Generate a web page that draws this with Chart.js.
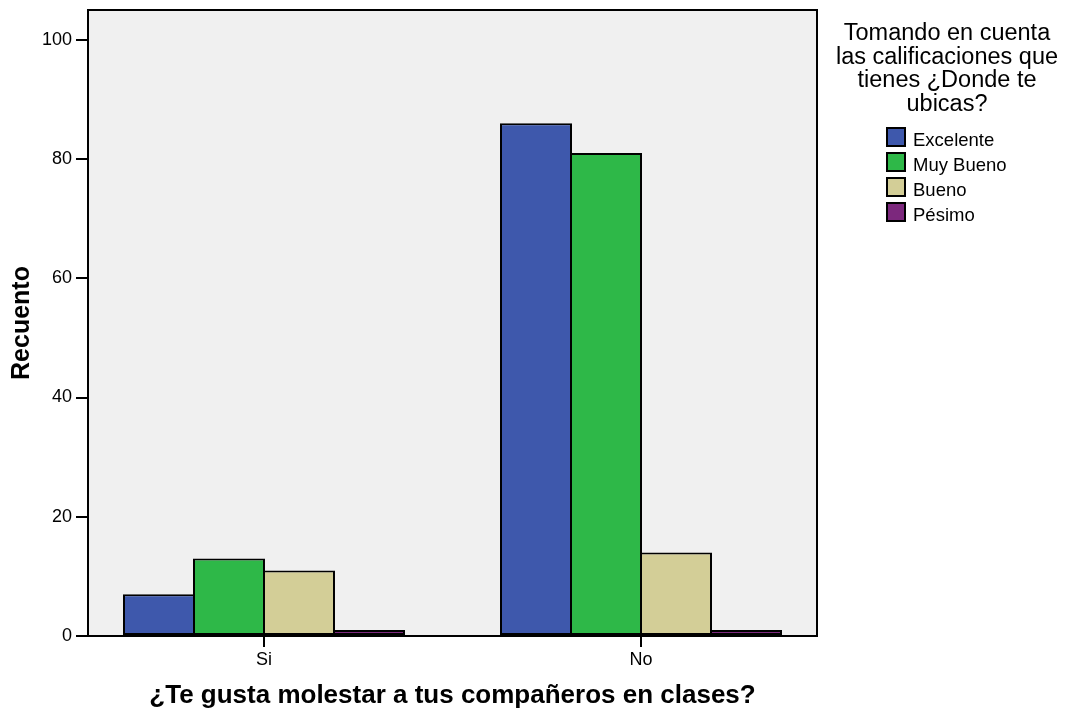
<!DOCTYPE html>
<html>
<head>
  <meta charset="UTF-8">
  <title>¿Te gusta molestar a tus compañeros en clases?</title>

  <script src="https://cdn.jsdelivr.net/npm/chart.js"></script>

  <style>
    body { margin: 0; background: #fff; }
  </style>

  <script>
    // Respuestas (eje X)
    const groups = ['Si', 'No'];

    // Recuento por calificación
    const excelente = [7, 86];
    const muyBueno = [13, 81];
    const bueno = [11, 14];
    const pesimo = [1, 1];

    const seriesNames = ['Excelente', 'Muy Bueno', 'Bueno', 'Pésimo'];
    const seriesColors = ['#3e58ac', '#2eb848', '#d3ce97', '#7c287d'];
    const yTicks = [0, 20, 40, 60, 80, 100];
    const legendTitle = ['Tomando en cuenta', 'las calificaciones que', 'tienes ¿Donde te', 'ubicas?'];

    const FONT = '"Liberation Sans", Arial, sans-serif';

    // fondo gris del área de gráfico y marco negro
    const plotFrame = {
      id: 'plotFrame',
      beforeDraw(chart) {
        const { ctx, chartArea: a } = chart;
        ctx.save();
        ctx.fillStyle = '#fff';
        ctx.fillRect(0, 0, chart.width, chart.height);
        ctx.fillStyle = '#f0f0f0';
        ctx.fillRect(a.left, a.top, a.right - a.left, a.bottom - a.top);
        ctx.restore();
      },
      afterDatasetsDraw(chart) {
        const { ctx, chartArea: a } = chart;
        ctx.save();
        ctx.strokeStyle = '#000';
        ctx.lineWidth = 2;
        ctx.strokeRect(a.left, a.top, a.right - a.left, a.bottom - a.top);
        ctx.restore();
      }
    };

    // leyenda a la derecha con título de varias líneas
    const sideLegend = {
      id: 'sideLegend',
      afterDraw(chart) {
        const ctx = chart.ctx;
        ctx.save();
        ctx.fillStyle = '#000';
        ctx.textAlign = 'center';
        ctx.textBaseline = 'alphabetic';
        ctx.font = '23.5px ' + FONT;
        legendTitle.forEach((line, i) => ctx.fillText(line, 947, 40 + i * 23.7));

        ctx.textAlign = 'left';
        ctx.font = '18.5px ' + FONT;
        chart.data.datasets.forEach((ds, i) => {
          const y = 127 + i * 25;
          ctx.fillStyle = ds.backgroundColor;
          ctx.fillRect(886, y, 20, 20);
          ctx.strokeStyle = '#000';
          ctx.lineWidth = 2;
          ctx.strokeRect(887, y + 1, 18, 18);
          ctx.fillStyle = '#000';
          ctx.fillText(ds.label, 913, y + 19);
        });
        ctx.restore();
      }
    };

    window.onload = () => {
      Chart.defaults.font.family = FONT;
      Chart.defaults.color = '#000';

      const series = [excelente, muyBueno, bueno, pesimo];
      const datasets = series.map((values, i) => ({
        label: seriesNames[i],
        data: values.map((v, g) => ({ x: g, y: v })),
        backgroundColor: seriesColors[i],
        borderColor: '#000',
        borderWidth: 2,
        borderSkipped: false,
        categoryPercentage: 0.7427,
        barPercentage: 72 / 70
      }));

      const ctx = document.getElementById('chart').getContext('2d');
      new Chart(ctx, {
        type: 'bar',
        data: { datasets: datasets },
        options: {
          responsive: false,
          animation: false,
          devicePixelRatio: 1,
          layout: { padding: { top: 10, right: 251, bottom: 0, left: 0 } },
          plugins: {
            legend: { display: false },
            tooltip: { enabled: false }
          },
          scales: {
            x: {
              type: 'linear',
              bounds: 'data',
              offset: false,
              min: -0.4668,
              max: 1.4668,
              afterBuildTicks: (scale) => { scale.ticks = groups.map((g, i) => ({ value: i })); },
              afterFit: (scale) => {
                scale.height = 74;
                scale.paddingLeft = 0;
                scale.paddingRight = 0;
              },
              grid: { offset: false, drawOnChartArea: false, tickLength: 11, lineWidth: 2, tickWidth: 2, color: '#000', tickColor: '#000' },
              border: { display: false },
              ticks: {
                callback: (v, i) => groups[i],
                font: { size: 18 },
                padding: 2,
                autoSkip: false,
                maxRotation: 0
              },
              title: {
                display: true,
                text: '¿Te gusta molestar a tus compañeros en clases?',
                font: { size: 26, weight: 'bold', lineHeight: 1.1 },
                padding: { top: 0, bottom: 0 }
              }
            },
            y: {
              bounds: 'data',
              min: 0,
              max: 105,
              afterBuildTicks: (scale) => { scale.ticks = yTicks.map(v => ({ value: v })); },
              afterFit: (scale) => {
                scale.width = 88;
                scale.paddingTop = 0;
                scale.paddingBottom = 0;
              },
              grid: { drawOnChartArea: false, tickLength: 12, lineWidth: 2, tickWidth: 2, color: '#000', tickColor: '#000' },
              border: { display: false },
              ticks: { font: { size: 18 }, padding: 4 },
              title: {
                display: true,
                text: 'Recuento',
                font: { size: 25, weight: 'bold', lineHeight: 1.1 },
                padding: { top: 8, bottom: 0 }
              }
            }
          }
        },
        plugins: [plotFrame, sideLegend]
      });
    };
  </script>
</head>
<body>
  <canvas id="chart" width="1068" height="710"></canvas>
</body>
</html>
